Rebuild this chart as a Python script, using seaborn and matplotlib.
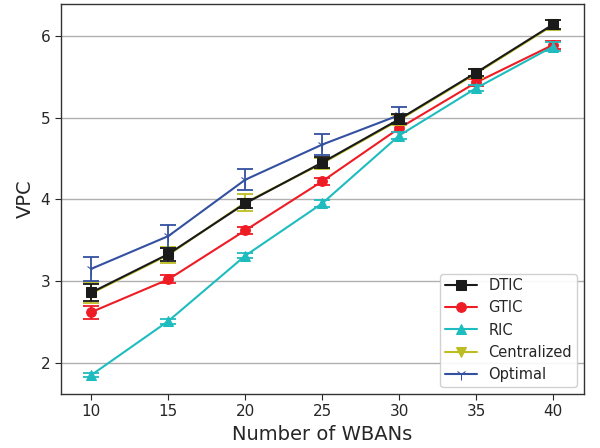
import numpy as np
import pandas as pd
import matplotlib
matplotlib.use('Agg')
import matplotlib.pyplot as plt
import seaborn as sns

# number of WBANs
wbans = [10, 15, 20, 25, 30, 35, 40]
wbans_opt = [10, 15, 20, 25, 30]

# VPC means and error half-widths
dtic = [2.86, 3.33, 3.95, 4.45, 4.98, 5.55, 6.14]
dtic_err = [0.10, 0.08, 0.06, 0.07, 0.06, 0.04, 0.05]
gtic = [2.62, 3.02, 3.62, 4.22, 4.87, 5.43, 5.89]
gtic_err = [0.08, 0.05, 0.04, 0.04, 0.05, 0.04, 0.05]
ric = [1.85, 2.51, 3.31, 3.95, 4.78, 5.36, 5.87]
ric_err = [0.03, 0.03, 0.03, 0.04, 0.04, 0.04, 0.05]
central = [2.85, 3.32, 3.96, 4.44, 4.97, 5.54, 6.13]
central_err = [0.12, 0.10, 0.10, 0.07, 0.06, 0.05, 0.06]
optimal = [3.15, 3.55, 4.24, 4.67, 5.03]
optimal_err = [0.15, 0.14, 0.13, 0.13, 0.10]

sns.set_style('white')
plt.rcParams['font.family'] = ['DejaVu Sans']

fig, ax = plt.subplots(figsize=(6, 4.48), dpi=100)

series = [
    ('DTIC', wbans, dtic, dtic_err, '#1a1a1a', 's', 7),
    ('GTIC', wbans, gtic, gtic_err, '#ee1c25', 'o', 7),
    ('RIC', wbans, ric, ric_err, '#1fbcbf', '^', 7),
    ('Centralized', wbans, central, central_err, '#bcbd22', 'v', 7),
    ('Optimal', wbans_opt, optimal, optimal_err, '#3450a0', '1', 8),
]

order = [3, 4, 1, 2, 0]  # draw DTIC on top
for i in order:
    name, x, y, err, color, marker, ms = series[i]
    z = 3 if i == 0 else 2 + i * 0.1
    ax.errorbar(x, y, yerr=err, fmt='none', ecolor=color, capsize=6,
                elinewidth=1.3, capthick=1.3, zorder=z)
    sns.lineplot(x=x, y=y, ax=ax, color=color, marker=marker, markersize=ms,
                 markeredgecolor=color, linewidth=1.5, label=name, zorder=z + 0.05)

handles, labels = ax.get_legend_handles_labels()
want = ['DTIC', 'GTIC', 'RIC', 'Centralized', 'Optimal']
hmap = dict(zip(labels, handles))
ax.legend([hmap[w] for w in want], want, loc='lower right', fontsize=10.5,
          frameon=True, framealpha=0.9, edgecolor='#cccccc',
          handlelength=2.2, borderpad=0.3, labelspacing=0.5)

ax.set_xlim(8, 42)
ax.set_ylim(1.62, 6.39)
ax.set_xticks([10, 15, 20, 25, 30, 35, 40])
ax.set_yticks([2, 3, 4, 5, 6])
ax.yaxis.grid(True, color='#b0b0b0', linewidth=1)
ax.xaxis.grid(False)
ax.set_axisbelow(True)
ax.tick_params(axis='both', labelsize=11, direction='out', length=4, left=True, bottom=True)
ax.set_xlabel('Number of WBANs', fontsize=14)
ax.set_ylabel('VPC', fontsize=14)
for s in ax.spines.values():
    s.set_color('#333333')
    s.set_linewidth(1.0)

fig.subplots_adjust(left=0.101, right=0.973, top=0.991, bottom=0.121)
fig.savefig('out.png', dpi=100)
